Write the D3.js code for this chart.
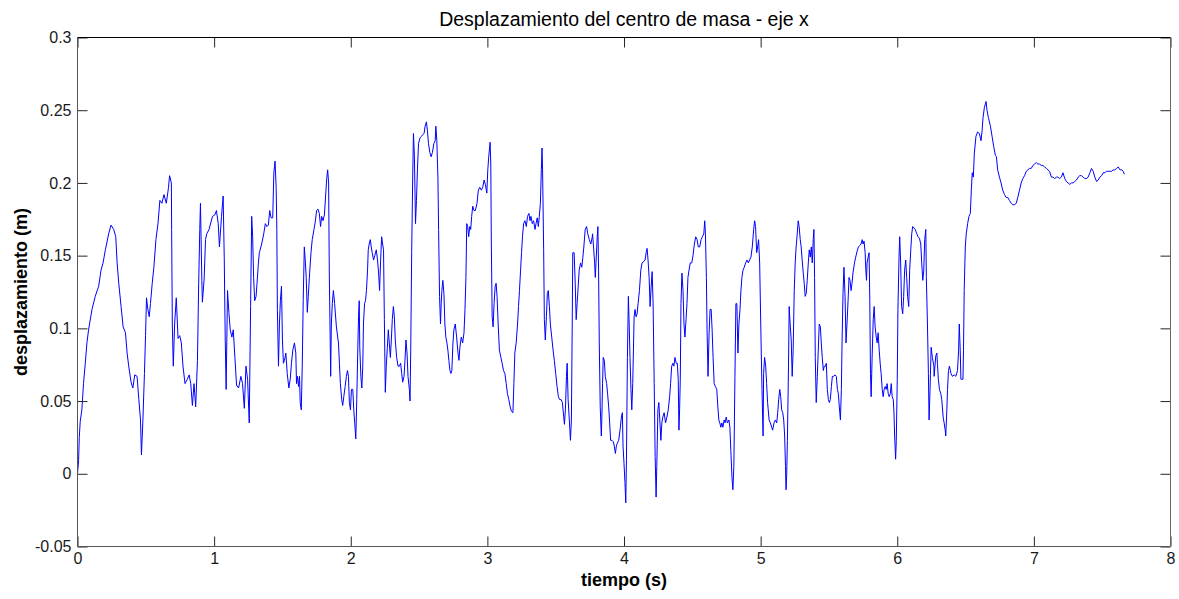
<!DOCTYPE html>
<html>
<head>
<meta charset="utf-8">
<script src="https://cdn.jsdelivr.net/npm/d3@7/dist/d3.min.js"></script>
<style>
  html, body { margin: 0; padding: 0; background: #fff; }
  svg { display: block; font-family: "Liberation Sans", Arial, Helvetica, sans-serif; }
</style>
</head>
<body>
<svg id="chart" width="1179" height="599"></svg>
<script>
// ---- data: [tiempo (s), desplazamiento (m)] ----
const seg1 = [[0.000,0.000],[0.008,0.009],[0.013,0.025],[0.020,0.036],[0.032,0.044],[0.044,0.062],[0.057,0.076],[0.069,0.090],[0.081,0.099],[0.106,0.113],
[0.130,0.122],[0.155,0.129],[0.172,0.140],[0.187,0.145],[0.204,0.154],[0.228,0.165],[0.245,0.171],[0.265,0.168],[0.280,0.163],[0.290,0.145],
[0.302,0.131],[0.319,0.115],[0.334,0.101],[0.351,0.097],[0.363,0.083],[0.375,0.074],[0.392,0.063],[0.405,0.059],[0.419,0.068],[0.436,0.067],
[0.449,0.051],[0.461,0.037],[0.468,0.013],[0.478,0.035],[0.490,0.069],[0.498,0.095],[0.505,0.121],[0.515,0.113],[0.525,0.108],[0.534,0.117],
[0.547,0.131],[0.559,0.142],[0.574,0.161],[0.589,0.172],[0.603,0.188],[0.618,0.186],[0.633,0.192],[0.650,0.186],[0.665,0.196],[0.674,0.205],
[0.687,0.200],[0.689,0.168],[0.694,0.103],[0.701,0.074],[0.711,0.103],[0.723,0.121],[0.736,0.093],[0.748,0.095],[0.760,0.090],[0.772,0.074],
[0.787,0.062],[0.804,0.065],[0.817,0.068],[0.829,0.062],[0.841,0.047],[0.853,0.062],[0.865,0.046],[0.878,0.078],[0.887,0.131],[0.895,0.168],
[0.900,0.186],[0.910,0.133],[0.914,0.118],[0.927,0.134],[0.937,0.161],[0.946,0.165],[0.963,0.168],[0.988,0.177],[1.005,0.178],[1.017,0.181],
[1.030,0.172],[1.039,0.156],[1.054,0.177],[1.066,0.191],[1.074,0.149],[1.081,0.094],[1.088,0.058],[1.098,0.126],[1.108,0.111],[1.118,0.099],
[1.130,0.094],[1.140,0.099],[1.152,0.080],[1.164,0.061],[1.179,0.059],[1.196,0.067],[1.208,0.062],[1.221,0.045],[1.233,0.074],[1.245,0.065],
[1.257,0.035],[1.267,0.115]];

const seg2 = [[1.275,0.177],[1.282,0.163],[1.289,0.135],[1.297,0.119],[1.307,0.122],[1.314,0.131],[1.324,0.145],[1.331,0.152],[1.348,0.158],[1.363,0.165],
[1.375,0.172],[1.387,0.170],[1.397,0.171],[1.407,0.181],[1.417,0.176],[1.429,0.176],[1.437,0.207],[1.446,0.215],[1.454,0.197],[1.459,0.168],
[1.463,0.113],[1.471,0.074],[1.478,0.103],[1.485,0.119],[1.493,0.129],[1.500,0.092],[1.507,0.076],[1.515,0.078],[1.525,0.083],[1.535,0.069],
[1.547,0.059],[1.557,0.065],[1.566,0.076],[1.576,0.085],[1.588,0.090],[1.598,0.083],[1.603,0.062],[1.610,0.067],[1.618,0.060],[1.625,0.067],
[1.630,0.049],[1.638,0.044],[1.645,0.074],[1.652,0.119],[1.660,0.156],[1.667,0.147],[1.674,0.135],[1.682,0.111],[1.689,0.122],[1.699,0.138],
[1.709,0.152],[1.718,0.161],[1.731,0.168],[1.740,0.173],[1.750,0.181],[1.760,0.182],[1.770,0.179],[1.779,0.170],[1.787,0.177],[1.797,0.174],
[1.807,0.178],[1.816,0.191],[1.824,0.203],[1.831,0.209],[1.838,0.200],[1.843,0.138],[1.848,0.103],[1.853,0.067],[1.858,0.103],[1.865,0.117],
[1.873,0.126],[1.882,0.117],[1.895,0.101],[1.910,0.090],[1.917,0.076],[1.924,0.062],[1.934,0.051],[1.941,0.047],[1.949,0.053],[1.959,0.060],
[1.968,0.067],[1.976,0.071],[1.983,0.067],[1.990,0.049],[1.998,0.044],[2.005,0.058],[2.015,0.058],[2.022,0.044],[2.029,0.035],[2.037,0.024],
[2.044,0.051],[2.051,0.083],[2.057,0.108],[2.062,0.119],[2.066,0.087],[2.074,0.067],[2.081,0.059],[2.088,0.074],[2.093,0.103],[2.101,0.117],
[2.108,0.119],[2.115,0.126],[2.123,0.140],[2.128,0.154],[2.135,0.158],[2.143,0.161],[2.150,0.156],[2.157,0.152],[2.167,0.147],[2.176,0.150],
[2.187,0.154],[2.196,0.147],[2.204,0.138],[2.211,0.126],[2.218,0.145],[2.226,0.163],[2.233,0.158],[2.240,0.154],[2.246,0.106],[2.253,0.056],
[2.260,0.074],[2.268,0.087],[2.275,0.099],[2.282,0.090],[2.290,0.080],[2.297,0.092],[2.304,0.106],[2.312,0.115],[2.319,0.108],[2.326,0.092],
[2.336,0.080],[2.346,0.074],[2.356,0.074],[2.365,0.076],[2.373,0.069],[2.380,0.063],[2.390,0.067],[2.397,0.078],[2.404,0.092],[2.412,0.083],
[2.419,0.067],[2.429,0.058],[2.434,0.050],[2.439,0.085],[2.446,0.152],[2.454,0.207],[2.459,0.234],[2.466,0.218],[2.474,0.172],[2.481,0.188],
[2.488,0.209],[2.496,0.227],[2.507,0.231],[2.518,0.232]];

const seg3 = [[2.525,0.233],[2.537,0.234],[2.544,0.239],[2.554,0.242],[2.562,0.235],[2.569,0.227],[2.579,0.221],[2.588,0.218],[2.598,0.221],[2.608,0.227],
[2.618,0.229],[2.623,0.239],[2.630,0.229],[2.638,0.204],[2.643,0.168],[2.650,0.122],[2.657,0.103],[2.662,0.117],[2.667,0.126],[2.674,0.133],
[2.682,0.124],[2.689,0.103],[2.696,0.094],[2.704,0.090],[2.711,0.085],[2.718,0.078],[2.726,0.071],[2.733,0.069],[2.740,0.071],[2.748,0.090],
[2.755,0.099],[2.765,0.103],[2.775,0.094],[2.785,0.083],[2.792,0.078],[2.799,0.087],[2.809,0.094],[2.819,0.090],[2.829,0.097],[2.836,0.113],
[2.843,0.135],[2.849,0.172],[2.856,0.170],[2.863,0.163],[2.871,0.170],[2.878,0.168],[2.885,0.177],[2.893,0.184],[2.902,0.181],[2.912,0.181],
[2.924,0.186],[2.934,0.195],[2.944,0.197],[2.956,0.195],[2.966,0.197],[2.976,0.202],[2.985,0.199],[2.996,0.193],[3.003,0.209],[3.010,0.218],
[3.020,0.228],[3.025,0.213],[3.029,0.158],[3.035,0.108],[3.042,0.101],[3.049,0.117],[3.057,0.129],[3.064,0.131],[3.071,0.122],[3.079,0.103],
[3.088,0.085],[3.099,0.080],[3.108,0.076],[3.118,0.071],[3.128,0.069],[3.138,0.062],[3.147,0.055],[3.157,0.051],[3.167,0.046],[3.176,0.043],
[3.187,0.042],[3.194,0.062],[3.201,0.083],[3.211,0.090],[3.221,0.103],[3.228,0.115],[3.235,0.126],[3.243,0.140],[3.250,0.152],[3.257,0.163],
[3.265,0.172],[3.275,0.174],[3.285,0.170],[3.294,0.177],[3.304,0.179],[3.312,0.174],[3.319,0.177],[3.329,0.172],[3.338,0.174],[3.349,0.168],
[3.356,0.172],[3.365,0.176],[3.373,0.170],[3.380,0.177],[3.388,0.186],[3.395,0.209],[3.400,0.224],[3.404,0.209],[3.412,0.154],[3.417,0.106],
[3.424,0.092],[3.432,0.108],[3.439,0.124],[3.446,0.126],[3.454,0.115],[3.461,0.103],[3.471,0.094],[3.481,0.085],[3.490,0.078],[3.500,0.069],
[3.510,0.060],[3.520,0.053],[3.529,0.051],[3.540,0.051],[3.549,0.049],[3.559,0.039],[3.564,0.034],[3.571,0.044],[3.579,0.067],[3.584,0.076],
[3.591,0.051],[3.601,0.035],[3.608,0.023],[3.615,0.037],[3.621,0.103],[3.625,0.152],[3.635,0.152],[3.643,0.131],[3.650,0.106],[3.657,0.117],
[3.665,0.129],[3.672,0.140],[3.682,0.145],[3.691,0.142],[3.699,0.149],[3.706,0.156],[3.716,0.168],[3.726,0.170],[3.735,0.165],[3.746,0.161],
[3.757,0.158],[3.768,0.163]];

const seg4 = [[3.770,0.165],[3.777,0.156],[3.785,0.145],[3.790,0.135],[3.797,0.149],[3.804,0.163],[3.809,0.170],[3.814,0.140],[3.819,0.090],[3.826,0.046],
[3.834,0.026],[3.838,0.039],[3.843,0.062],[3.848,0.080],[3.856,0.078],[3.863,0.067],[3.873,0.062],[3.880,0.055],[3.888,0.046],[3.895,0.035],
[3.902,0.023],[3.912,0.023],[3.922,0.022],[3.929,0.019],[3.937,0.014],[3.944,0.019],[3.951,0.021],[3.961,0.023],[3.971,0.030],[3.981,0.039],
[3.988,0.042],[3.993,0.019],[4.000,0.007],[4.007,-0.006],[4.013,-0.020],[4.018,0.010],[4.025,0.080],[4.032,0.122],[4.037,0.106],[4.044,0.080],
[4.051,0.058],[4.057,0.044],[4.064,0.062],[4.069,0.085],[4.074,0.108],[4.081,0.113],[4.088,0.108],[4.096,0.110],[4.103,0.117],[4.113,0.126],
[4.123,0.140],[4.132,0.145],[4.145,0.146],[4.154,0.147],[4.162,0.152],[4.169,0.155],[4.176,0.147],[4.184,0.135],[4.191,0.115],[4.199,0.129],
[4.206,0.139],[4.213,0.117],[4.221,0.062],[4.228,0.012],[4.235,-0.016],[4.240,0.005],[4.248,0.044],[4.255,0.049],[4.262,0.037],[4.270,0.023],
[4.277,0.035],[4.284,0.039],[4.294,0.042],[4.304,0.035],[4.314,0.039],[4.324,0.044],[4.334,0.053],[4.341,0.062],[4.349,0.074],[4.358,0.076],
[4.365,0.074],[4.373,0.080],[4.382,0.076],[4.390,0.076],[4.397,0.065],[4.402,0.030],[4.407,0.044],[4.412,0.065],[4.417,0.117],[4.424,0.138],
[4.432,0.126],[4.439,0.103],[4.446,0.094],[4.454,0.106],[4.461,0.117],[4.468,0.135],[4.476,0.140],[4.485,0.145],[4.496,0.145],[4.505,0.150],
[4.515,0.158],[4.525,0.163],[4.535,0.161],[4.544,0.156],[4.554,0.156],[4.564,0.161],[4.574,0.163],[4.584,0.165],[4.591,0.174],[4.596,0.165],
[4.603,0.135],[4.608,0.099],[4.615,0.067],[4.623,0.097],[4.630,0.113],[4.638,0.113],[4.645,0.099],[4.652,0.080],[4.660,0.062],[4.669,0.060],
[4.679,0.058],[4.687,0.046],[4.694,0.037],[4.701,0.035],[4.709,0.032],[4.716,0.035],[4.724,0.032],[4.733,0.037],[4.740,0.035],[4.748,0.039],
[4.757,0.035],[4.768,0.037],[4.775,0.032],[4.782,0.016],[4.790,-0.002],[4.797,-0.011],[4.804,0.005],[4.812,0.067],[4.819,0.117],[4.826,0.117],
[4.834,0.083],[4.841,0.103],[4.849,0.113],[4.856,0.126],[4.863,0.135],[4.871,0.140],[4.880,0.142],[4.890,0.145],[4.900,0.147],[4.910,0.145],
[4.919,0.147],[4.929,0.149],[4.939,0.156],[4.949,0.168],[4.956,0.174],[4.963,0.170],[4.971,0.152],[4.978,0.156],[4.985,0.161],[4.993,0.145],
[5.003,0.092],[5.010,0.058],[5.018,0.026]];

const seg5 = [[5.022,0.069],[5.029,0.080],[5.037,0.074],[5.044,0.062],[5.051,0.049],[5.062,0.037],[5.071,0.035],[5.081,0.032],[5.088,0.030],[5.098,0.035],
[5.108,0.037],[5.118,0.035],[5.125,0.042],[5.132,0.051],[5.140,0.058],[5.147,0.053],[5.154,0.044],[5.162,0.042],[5.169,0.037],[5.176,0.026],
[5.182,0.005],[5.186,-0.011],[5.191,0.000],[5.196,0.023],[5.204,0.074],[5.209,0.115],[5.216,0.103],[5.224,0.092],[5.231,0.067],[5.238,0.085],
[5.246,0.126],[5.253,0.145],[5.260,0.156],[5.268,0.165],[5.275,0.174],[5.282,0.170],[5.290,0.161],[5.297,0.156],[5.304,0.147],[5.312,0.138],
[5.319,0.131],[5.326,0.122],[5.334,0.124],[5.341,0.133],[5.349,0.145],[5.356,0.154],[5.363,0.149],[5.371,0.156],[5.378,0.145],[5.385,0.161],
[5.390,0.168],[5.395,0.135],[5.400,0.080],[5.407,0.049],[5.415,0.067],[5.422,0.085],[5.429,0.103],[5.437,0.101],[5.444,0.090],[5.451,0.080],
[5.459,0.071],[5.466,0.074],[5.474,0.074],[5.481,0.076],[5.488,0.058],[5.496,0.051],[5.503,0.049],[5.510,0.051],[5.518,0.060],[5.525,0.067],
[5.535,0.067],[5.544,0.068],[5.554,0.067],[5.562,0.058],[5.569,0.055],[5.576,0.046],[5.584,0.037],[5.591,0.058],[5.596,0.090],[5.603,0.124],
[5.610,0.142],[5.618,0.122],[5.625,0.090],[5.632,0.103],[5.640,0.119],[5.647,0.135],[5.654,0.133],[5.662,0.126],[5.669,0.131],[5.676,0.138],
[5.687,0.145],[5.696,0.149],[5.706,0.153],[5.716,0.156],[5.726,0.157],[5.735,0.158],[5.743,0.161],[5.750,0.158],[5.757,0.160],[5.765,0.152],
[5.770,0.140],[5.775,0.133],[5.779,0.145],[5.787,0.149],[5.794,0.152],[5.799,0.119],[5.804,0.069],[5.809,0.053],[5.816,0.080],[5.824,0.106],
[5.831,0.115],[5.838,0.101],[5.846,0.094],[5.853,0.090],[5.860,0.097],[5.868,0.085],[5.875,0.076],[5.882,0.069],[5.890,0.058],[5.897,0.053],
[5.904,0.058],[5.912,0.060],[5.919,0.058],[5.926,0.062],[5.934,0.055],[5.941,0.053],[5.949,0.055],[5.956,0.062],[5.963,0.053],[5.971,0.051],
[5.976,0.042],[5.981,0.026],[5.988,0.010],[5.993,0.023],[6.000,0.065],[6.005,0.113],[6.013,0.149],[6.018,0.163],[6.025,0.145],[6.032,0.115],
[6.040,0.110],[6.047,0.122],[6.054,0.140],[6.062,0.147],[6.069,0.135],[6.076,0.122],[6.084,0.115],[6.091,0.140],[6.099,0.154],[6.106,0.165],
[6.113,0.170],[6.123,0.169],[6.132,0.168],[6.143,0.165],[6.152,0.163],[6.162,0.162],[6.172,0.158],[6.179,0.145],[6.187,0.133],[6.194,0.140],
[6.201,0.161],[6.209,0.168],[6.213,0.135],[6.221,0.103],[6.228,0.069],[6.233,0.037],[6.240,0.058],[6.248,0.087],[6.257,0.080],[6.268,0.074]];

const seg6 = [[6.270,0.067],[6.282,0.081],[6.290,0.083],[6.294,0.076],[6.301,0.065],[6.309,0.058],[6.319,0.055],[6.326,0.051],[6.336,0.039],[6.343,0.035],
[6.351,0.030],[6.355,0.026],[6.363,0.044],[6.368,0.058],[6.375,0.071],[6.382,0.074],[6.393,0.069],[6.404,0.067],[6.417,0.068],[6.429,0.067],
[6.441,0.071],[6.449,0.085],[6.454,0.103],[6.461,0.085],[6.466,0.065],[6.474,0.065],[6.481,0.065],[6.485,0.085],[6.490,0.126],[6.498,0.156],
[6.505,0.165],[6.515,0.172],[6.525,0.177],[6.535,0.179],[6.542,0.195],[6.549,0.207],[6.557,0.204],[6.564,0.220],[6.576,0.232],[6.588,0.235],
[6.601,0.234],[6.613,0.229],[6.621,0.236],[6.628,0.245],[6.638,0.252],[6.650,0.256],[6.657,0.250],[6.667,0.245],[6.682,0.239],[6.694,0.232],
[6.706,0.225],[6.718,0.219],[6.726,0.218],[6.735,0.209],[6.748,0.204],[6.760,0.200],[6.772,0.195],[6.785,0.192],[6.797,0.190],[6.809,0.190],
[6.821,0.188],[6.834,0.186],[6.846,0.185],[6.858,0.185],[6.871,0.186],[6.882,0.190],[6.895,0.195],[6.907,0.200],[6.919,0.203],[6.932,0.205],
[6.944,0.208],[6.956,0.209],[6.968,0.210],[6.981,0.210],[6.993,0.212],[7.005,0.213],[7.018,0.214],[7.029,0.213],[7.042,0.213],[7.054,0.212],
[7.066,0.212],[7.079,0.211],[7.091,0.210],[7.103,0.209],[7.115,0.208],[7.128,0.204],[7.140,0.204],[7.152,0.203],[7.165,0.204],[7.176,0.204],
[7.189,0.203],[7.201,0.204],[7.213,0.207],[7.226,0.203],[7.238,0.201],[7.250,0.200],[7.263,0.199],[7.275,0.200],[7.287,0.200],[7.299,0.201],
[7.312,0.202],[7.324,0.204],[7.336,0.205],[7.349,0.205],[7.360,0.204],[7.373,0.203],[7.385,0.203],[7.397,0.204],[7.410,0.207],[7.422,0.210],
[7.434,0.208],[7.446,0.204],[7.459,0.201],[7.471,0.202],[7.483,0.204],[7.496,0.205],[7.507,0.207],[7.520,0.207],[7.532,0.208],[7.544,0.208],
[7.557,0.208],[7.569,0.208],[7.581,0.209],[7.593,0.209],[7.606,0.210],[7.618,0.211],[7.630,0.209],[7.643,0.209],[7.654,0.208],[7.662,0.206]];

const xTicks = [0, 1, 2, 3, 4, 5, 6, 7, 8];
const yTicks = [-0.05, 0, 0.05, 0.1, 0.15, 0.2, 0.25, 0.3];
const yTickLabels = ["-0.05", "0", "0.05", "0.1", "0.15", "0.2", "0.25", "0.3"];
const titleText = "Desplazamiento del centro de masa - eje x";
const xLabel = "tiempo (s)";
const yLabel = "desplazamiento (m)";

// ---- drawing ----
const series = [].concat(seg1, seg2, seg3, seg4, seg5, seg6);
const svg = d3.select("#chart");
const L = 77.5, R = 1170.5, T = 37.5, B = 546.5;

const x = d3.scaleLinear().domain([0, 8]).range([L, R]);
const y = d3.scaleLinear().domain([-0.05, 0.3]).range([B, T]);

svg.append("rect").attr("width", 1179).attr("height", 599).attr("fill", "#fff");

// data line
svg.append("path")
  .datum(series)
  .attr("fill", "none")
  .attr("stroke", "#0000ff")
  .attr("stroke-width", 1)
  .attr("d", d3.line().x(d => x(d[0])).y(d => y(d[1])));

const tickCol = "#262626";
const fmtY = d => yTickLabels[yTicks.indexOf(d)];

function styleAxis(g) {
  g.select(".domain").remove();
  g.selectAll(".tick line").attr("stroke", tickCol);
  g.selectAll(".tick text").attr("fill", "#1a1a1a")
    .style("font-size", "16px").style("font-family", '"Liberation Sans", Arial, sans-serif');
}

svg.append("g").attr("transform", `translate(0,${B})`)
  .call(d3.axisBottom(x).tickValues(xTicks).tickSize(-10).tickPadding(6).tickFormat(d3.format("d")))
  .call(styleAxis);
svg.append("g").attr("transform", `translate(0,${T})`)
  .call(d3.axisTop(x).tickValues(xTicks).tickSize(-10).tickFormat(""))
  .call(styleAxis);
svg.append("g").attr("transform", `translate(${L},0)`)
  .call(d3.axisLeft(y).tickValues(yTicks).tickSize(-10).tickPadding(6).tickFormat(fmtY))
  .call(styleAxis);
svg.append("g").attr("transform", `translate(${R},0)`)
  .call(d3.axisRight(y).tickValues(yTicks).tickSize(-10).tickFormat(""))
  .call(styleAxis);

// box
svg.append("line").attr("x1", L).attr("x2", R).attr("y1", T).attr("y2", T).attr("stroke", "#000");
svg.append("line").attr("x1", L).attr("x2", R).attr("y1", B).attr("y2", B).attr("stroke", "#555");
svg.append("line").attr("x1", L).attr("x2", L).attr("y1", T).attr("y2", B).attr("stroke", "#555");
svg.append("line").attr("x1", R).attr("x2", R).attr("y1", T).attr("y2", B).attr("stroke", "#666");

// title and labels
svg.append("text").attr("x", (L + R) / 2).attr("y", 26).attr("text-anchor", "middle")
  .style("font-size", "19.5px").attr("fill", "#000").text(titleText);
svg.append("text").attr("x", (L + R) / 2).attr("y", 586).attr("text-anchor", "middle")
  .style("font-size", "18px").style("font-weight", "bold").attr("fill", "#000").text(xLabel);
svg.append("text").attr("transform", `translate(27,${(T + B) / 2}) rotate(-90)`).attr("text-anchor", "middle")
  .style("font-size", "18px").style("font-weight", "bold").attr("fill", "#000").text(yLabel);
</script>
</body>
</html>
